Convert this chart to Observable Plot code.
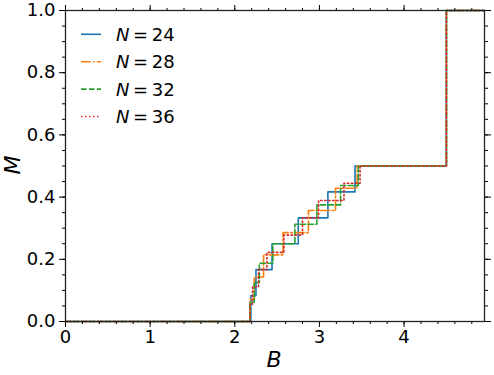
<!DOCTYPE html>
<html>
<head>
<meta charset="utf-8">
<script src="https://cdn.jsdelivr.net/npm/d3@7"></script>
<script src="https://cdn.jsdelivr.net/npm/@observablehq/plot@0.6"></script>
<style>
  body { margin: 0; background: white; }
</style>
</head>
<body>
<div id="chart"></div>
<script>
// Magnetization steps (B = field where M jumps to the given level)
const B24 = [0, 2.19, 2.25, 2.44, 2.75, 3.10, 3.42, 4.5, 4.95];
const M24 = [0, 0.0833, 0.1667, 0.25, 0.3333, 0.4167, 0.5, 1, 1];

const B28 = [0, 2.18, 2.23, 2.34, 2.57, 2.87, 3.19, 3.445, 4.5, 4.95];
const M28 = [0, 0.0714, 0.1429, 0.2143, 0.2857, 0.3571, 0.4286, 0.5, 1, 1];

const B32 = [0, 2.18, 2.23, 2.29, 2.45, 2.71, 2.97, 3.25, 3.46, 4.5, 4.95];
const M32 = [0, 0.0625, 0.125, 0.1875, 0.25, 0.3125, 0.375, 0.4375, 0.5, 1, 1];

const B36 = [0, 2.18, 2.21, 2.28, 2.38, 2.58, 2.80, 2.99, 3.29, 3.48, 4.5, 4.95];
const M36 = [0, 0.0556, 0.1111, 0.1667, 0.2222, 0.2778, 0.3333, 0.3889, 0.4444, 0.5, 1, 1];

const seriesLabels = ["24", "28", "32", "36"];
const xMajorTicks = [0, 1, 2, 3, 4];
const yMajorTicks = [0, 0.2, 0.4, 0.6, 0.8, 1.0];

const styles = [
  {color: "#1f77b4", dash: null},
  {color: "#ff7f0e", dash: "9.6,2.4,1.5,2.4"},
  {color: "#2ca02c", dash: "5.5,2.4"},
  {color: "#d62728", dash: "1.5,2.5"}
];
const seriesData = [[B24, M24], [B28, M28], [B32, M32], [B36, M36]].map(([b, m], i) =>
  b.map((v, j) => ({B: v, M: m[j], N: seriesLabels[i]})));

const xMinor = d3.range(0, 4.95, 0.2);
const yMinor = d3.range(0, 1.0001, 0.05);

const lines = seriesData.map((d, i) => Plot.line(d, {
  x: "B", y: "M", curve: "step-after",
  stroke: styles[i].color, strokeWidth: 1.6,
  strokeDasharray: styles[i].dash
}));

const chart = Plot.plot({
  width: 494, height: 375,
  marginLeft: 65, marginRight: 10, marginTop: 10, marginBottom: 54,
  style: {fontFamily: "DejaVu Sans", fontSize: "18px", color: "black", background: "white", overflow: "visible"},
  x: {domain: [0, 4.95], label: null},
  y: {domain: [0, 1], label: null},
  marks: [
    ...lines,
    Plot.axisX(xMinor, {anchor: "bottom", tickSize: 3, tickFormat: () => "", label: null}),
    Plot.axisX(xMajorTicks, {anchor: "bottom", tickSize: 6, tickPadding: 3, tickFormat: d => String(d), label: null}),
    Plot.axisX(xMinor, {anchor: "top", tickSize: 3, tickFormat: () => "", label: null}),
    Plot.axisX(xMajorTicks, {anchor: "top", tickSize: 6, tickFormat: () => "", label: null}),
    Plot.axisY(yMinor, {anchor: "left", tickSize: 3, tickFormat: () => "", label: null}),
    Plot.axisY(yMajorTicks, {anchor: "left", tickSize: 6, tickPadding: 4, tickFormat: d3.format(".1f"), label: null}),
    Plot.axisY(yMinor, {anchor: "right", tickSize: 3, tickFormat: () => "", label: null}),
    Plot.axisY(yMajorTicks, {anchor: "right", tickSize: 6, tickFormat: () => "", label: null}),
    Plot.frame({stroke: "#222", strokeWidth: 1.3})
  ]
});
document.getElementById("chart").appendChild(chart);

const svg = d3.select(chart);
// axis titles
svg.append("text").attr("x", 274).attr("y", 367).attr("text-anchor", "middle")
  .attr("font-family", "DejaVu Sans").attr("font-style", "italic").attr("font-size", 22)
  .attr("fill", "black").text("B");
svg.append("text").attr("transform", "translate(20,165) rotate(-90)").attr("text-anchor", "middle")
  .attr("font-family", "DejaVu Sans").attr("font-style", "italic").attr("font-size", 22)
  .attr("fill", "black").text("M");

// legend
const leg = svg.append("g");
seriesLabels.forEach((lab, i) => {
  const cy = 34.3 + i * 27.4;
  leg.append("line").attr("x1", 81).attr("x2", 101).attr("y1", cy).attr("y2", cy)
    .attr("stroke", styles[i].color).attr("stroke-width", 1.6)
    .attr("stroke-dasharray", styles[i].dash);
  const t = leg.append("text").attr("x", 116).attr("y", cy + 6.5)
    .attr("text-anchor", "start")
    .attr("font-family", "DejaVu Sans").attr("font-size", 18).attr("fill", "black");
  t.append("tspan").attr("font-style", "italic").text("N");
  t.append("tspan").text("\u2009=\u2009" + lab);
});
</script>
</body>
</html>
